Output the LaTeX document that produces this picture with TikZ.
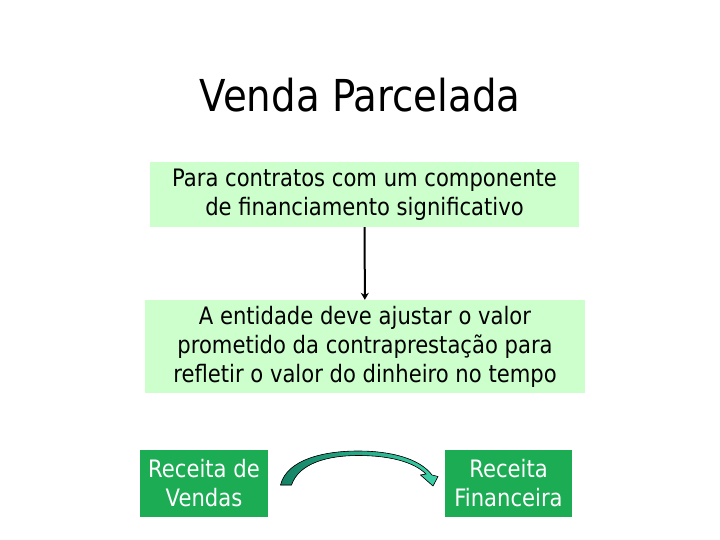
\documentclass[tikz,border=0pt]{standalone}
\usepackage{fontspec}
\setmainfont{DejaVu Sans}[FakeStretch=0.88]
\usetikzlibrary{arrows.meta}
\definecolor{palegreen}{RGB}{204,255,204}
\definecolor{boxgreen}{RGB}{28,172,84}
\definecolor{tealdark}{RGB}{20,130,100}
\definecolor{teallight}{RGB}{60,210,170}
\tikzstyle{lbox}=[rectangle,fill=palegreen,align=center,font=\fontsize{24}{29}\selectfont,inner sep=0pt]
\tikzstyle{gbox}=[rectangle,fill=boxgreen,text=white,align=center,font=\fontsize{24}{29}\selectfont,inner sep=0pt,minimum height=67pt]
\tikzstyle{dgraph}=[-{Stealth[length=7pt,width=8pt]}, line width=2pt]

\begin{document}
\begin{tikzpicture}[x=1pt,y=-1pt]
\useasboundingbox (0,0) rectangle (720,540);
\node[anchor=base,font=\fontsize{44}{50}\selectfont] (T) at (360,112) {Venda Parcelada};
\node[lbox,minimum width=429pt,minimum height=65pt] (P) at (364.5,194.5) {Para contratos com um componente\\de financiamento significativo};
\node[lbox,minimum width=440pt,minimum height=93pt] (E) at (365,346.5) {A entidade deve ajustar o valor\\prometido da contrapresta\c{c}\~ao para\\refletir o valor do dinheiro no tempo};
\node[gbox,minimum width=128pt] (V) at (204,483.5) {Receita de\\Vendas};
\node[gbox,minimum width=127pt] (F) at (508.5,483.5) {Receita\\Financeira};
\draw[dgraph](P)--(E);
% curved block arrow between the two revenue boxes
\filldraw[draw=black,line width=0.6pt,left color=tealdark,right color=teallight]
 (280.5,485) .. controls (287,459) and (325,451) .. (358,451)
 .. controls (392,451) and (420,459) .. (432,475)
 -- (438,476.5) -- (433,486) -- (420.5,475) -- (426,474)
 .. controls (414,462) and (390,455.5) .. (358,455.5)
 .. controls (328,455.5) and (299,463) .. (291.5,485) -- cycle;
\end{tikzpicture}
\end{document}
